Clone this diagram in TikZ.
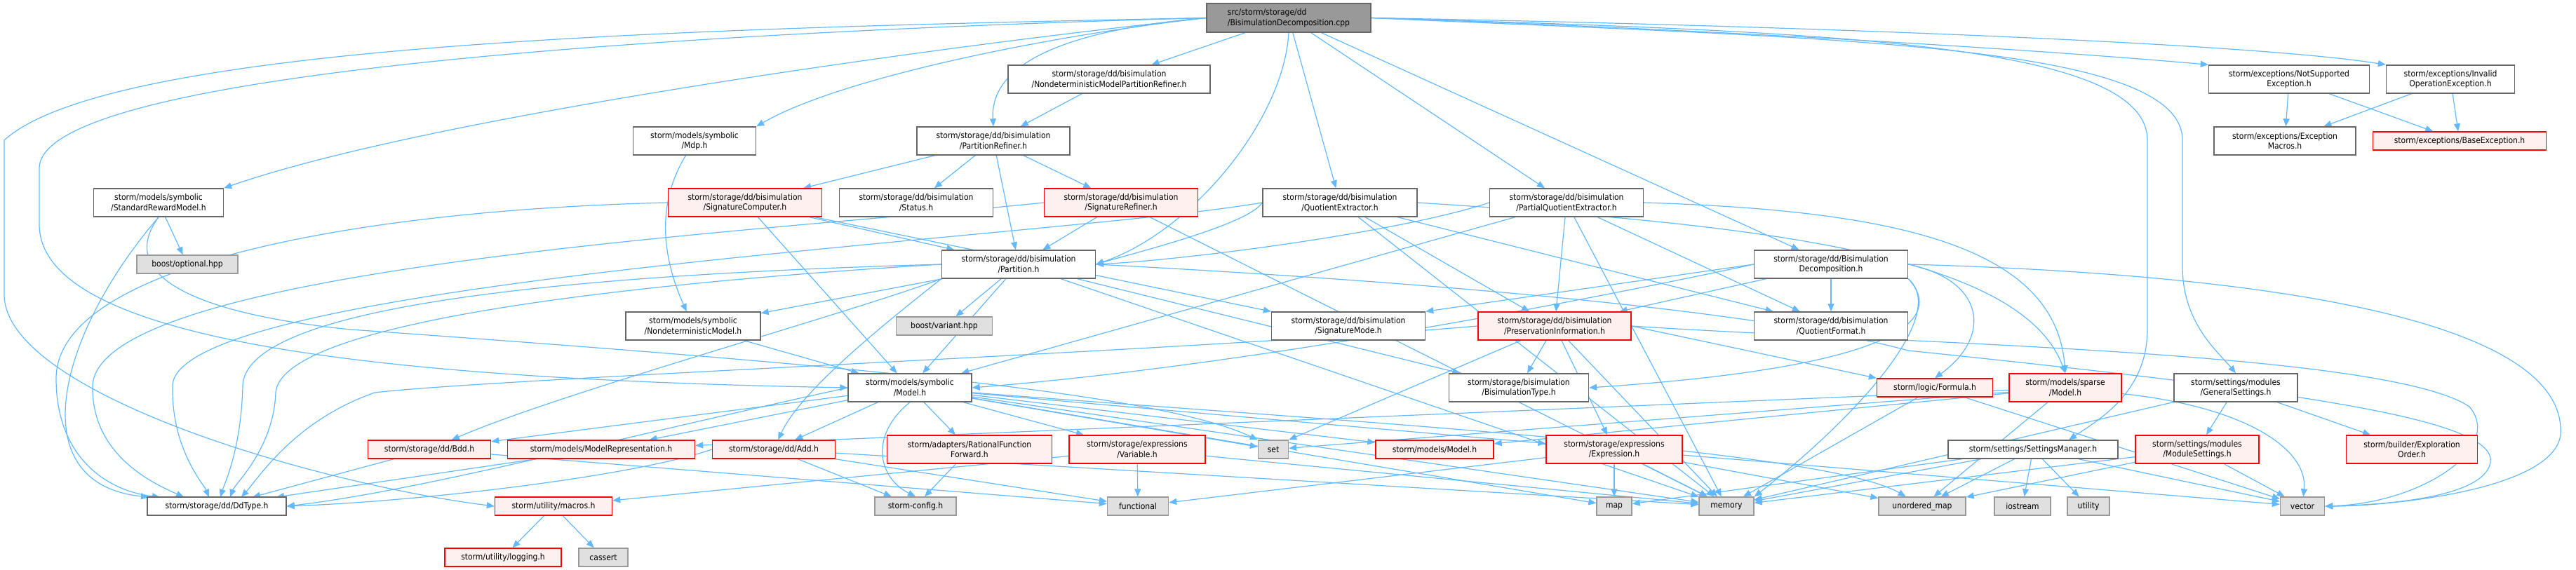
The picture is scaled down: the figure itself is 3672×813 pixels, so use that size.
\documentclass[tikz,border=0pt]{standalone}
\usepackage{fontspec}
\setmainfont{DejaVu Sans Condensed}
\usetikzlibrary{arrows.meta}
\pgfdeclarelayer{bg}
\pgfsetlayers{bg,main}
\definecolor{edgec}{HTML}{63B8FF}
\definecolor{nborder}{HTML}{666666}
\definecolor{redb}{HTML}{FF0000}
\definecolor{redf}{HTML}{FFF0F0}
\definecolor{grayf}{HTML}{E0E0E0}
\definecolor{grayb}{HTML}{999999}
\definecolor{topf}{HTML}{999999}
\tikzset{
  nbase/.style={line width=1.4pt, align=center, inner sep=0pt, font=\fontsize{12}{14.5}\selectfont},
  wbox/.style={nbase, draw=nborder, fill=white},
  rbox/.style={nbase, draw=redb, fill=redf},
  gbox/.style={nbase, draw=grayb, fill=grayf},
  tbox/.style={nbase, draw=nborder, fill=topf, align=left},
  dep/.style={draw=edgec, line width=1.2pt, -{Triangle[length=11pt,width=9pt]}},
}
\newcommand\nd[7]{\node[#6,minimum width=#4pt,minimum height=#5pt] (#1) at (#2,-#3) {#7};}
\begin{document}
\begin{tikzpicture}[x=1pt,y=1pt]
\useasboundingbox (0,0) rectangle (3672,-813);
% row 0
\nd{top}{1837}{25.5}{234}{41}{tbox}{src/storm/storage/dd\\/BisimulationDecomposition.cpp}
% row 1
\nd{nmpr}{1581}{113}{288}{40}{wbox}{storm/storage/dd/bisimulation\\/NondeterministicModelPartitionRefiner.h}
\nd{nse}{3263}{113}{229}{40}{wbox}{storm/exceptions/NotSupported\\Exception.h}
\nd{ioe}{3493}{113}{183}{40}{wbox}{storm/exceptions/Invalid\\OperationException.h}
% row 2
\nd{mdp}{990}{201}{175}{40}{wbox}{storm/models/symbolic\\/Mdp.h}
\nd{pref}{1416}{201}{218}{40}{wbox}{storm/storage/dd/bisimulation\\/PartitionRefiner.h}
\nd{emac}{3257}{201}{202}{40}{wbox}{storm/exceptions/Exception\\Macros.h}
\nd{bexc}{3506}{201}{247}{26}{rbox}{storm/exceptions/BaseException.h}
% row 3
\nd{srm}{226}{289}{185}{40}{wbox}{storm/models/symbolic\\/StandardRewardModel.h}
\nd{scomp}{1062}{289}{219}{40}{rbox}{storm/storage/dd/bisimulation\\/SignatureComputer.h}
\nd{status}{1306}{289}{219}{40}{wbox}{storm/storage/dd/bisimulation\\/Status.h}
\nd{sref}{1598}{289}{219}{40}{rbox}{storm/storage/dd/bisimulation\\/SignatureRefiner.h}
\nd{qext}{1910}{289}{220}{40}{wbox}{storm/storage/dd/bisimulation\\/QuotientExtractor.h}
\nd{pqext}{2233}{289}{219}{40}{wbox}{storm/storage/dd/bisimulation\\/PartialQuotientExtractor.h}
% row 3.5
\nd{bopt}{267}{377}{144}{26}{gbox}{boost/optional.hpp}
\nd{part}{1452}{377}{219}{40}{wbox}{storm/storage/dd/bisimulation\\/Partition.h}
\nd{bdech}{2610}{377}{219}{40}{wbox}{storm/storage/dd/Bisimulation\\Decomposition.h}
% row 4
\nd{ndm}{988}{465}{192}{40}{wbox}{storm/models/symbolic\\/NondeterministicModel.h}
\nd{bvar}{1346}{465}{137}{26}{gbox}{boost/variant.hpp}
\nd{smode}{1922}{465}{219}{40}{wbox}{storm/storage/dd/bisimulation\\/SignatureMode.h}
\nd{pinfo}{2216}{465}{218}{40}{rbox}{storm/storage/dd/bisimulation\\/PreservationInformation.h}
\nd{qfmt}{2610}{465}{219}{40}{wbox}{storm/storage/dd/bisimulation\\/QuotientFormat.h}
% row 5
\nd{smodel}{1297}{553}{176}{40}{wbox}{storm/models/symbolic\\/Model.h}
\nd{btype}{2165}{553}{199}{40}{wbox}{storm/storage/bisimulation\\/BisimulationType.h}
\nd{formula}{2758}{553}{165}{26}{rbox}{storm/logic/Formula.h}
\nd{spmodel}{2944}{553}{160}{40}{rbox}{storm/models/sparse\\/Model.h}
\nd{gset}{3187}{553}{176}{40}{wbox}{storm/settings/modules\\/GeneralSettings.h}
% row 6
\nd{bdd}{612}{641}{175}{26}{rbox}{storm/storage/dd/Bdd.h}
\nd{mrep}{857}{641}{267}{26}{rbox}{storm/models/ModelRepresentation.h}
\nd{add}{1103}{641}{175}{26}{rbox}{storm/storage/dd/Add.h}
\nd{rff}{1382}{641}{235}{40}{rbox}{storm/adapters/RationalFunction\\Forward.h}
\nd{var}{1621}{641}{194}{40}{rbox}{storm/storage/expressions\\/Variable.h}
\nd{set}{1815}{641}{43}{26}{gbox}{set}
\nd{mmodel}{2045}{641}{168}{26}{rbox}{storm/models/Model.h}
\nd{expr}{2301}{641}{194}{40}{rbox}{storm/storage/expressions\\/Expression.h}
\nd{smgr}{2898}{641}{242}{26}{wbox}{storm/settings/SettingsManager.h}
\nd{modset}{3132}{641}{176}{40}{rbox}{storm/settings/modules\\/ModuleSettings.h}
\nd{exord}{3438}{641}{187}{40}{rbox}{storm/builder/Exploration\\Order.h}
% row 7
\nd{ddtype}{309}{722}{198}{26}{wbox}{storm/storage/dd/DdType.h}
\nd{macros}{789}{722}{167}{26}{rbox}{storm/utility/macros.h}
\nd{config}{1305}{722}{116}{26}{gbox}{storm-config.h}
\nd{func}{1622}{722}{87}{26}{gbox}{functional}
\nd{map}{2301}{722}{50}{26}{gbox}{map}
\nd{memory}{2461}{722}{78}{26}{gbox}{memory}
\nd{umap}{2740}{722}{124}{26}{gbox}{unordered\_map}
\nd{iostream}{2883}{722}{80}{26}{gbox}{iostream}
\nd{utility}{2977}{722}{60}{26}{gbox}{utility}
\nd{vector}{3282}{722}{63}{26}{gbox}{vector}
% row 8
\nd{logging}{717}{795}{166}{26}{rbox}{storm/utility/logging.h}
\nd{cassert}{860}{795}{70}{26}{gbox}{cassert}
% DdType entry points
\coordinate (dd1) at (212,-709);
\coordinate (dd2) at (228,-709);
\coordinate (dd3) at (262,-709);
\coordinate (dd4) at (298,-709);
\coordinate (dd5) at (314,-709);
\coordinate (dd6) at (328,-709);
\coordinate (dd7) at (344,-709);
\coordinate (dd8) at (360,-709);
\coordinate (dd9) at (394,-709);
\begin{pgfonlayer}{bg}
% from the top node
\draw[dep] (top.west) .. controls (1000,-40) and (160,-60) .. (6,-200) -- (6,-420) .. controls (6,-560) and (450,-690) .. (macros.west);
\draw[dep] (top.west) .. controls (1000,-45) and (56,-100) .. (56,-240) -- (56,-320) .. controls (56,-480) and (500,-540) .. (smodel.west);
\draw[dep] (top.west) .. controls (1300,-70) and (600,-170) .. (srm.north east);
\draw[dep] (top.west) .. controls (1500,-50) and (1200,-110) .. (mdp.north east);
\draw[dep] (top.west) .. controls (1550,-40) and (1410,-80) .. (pref.north);
\draw[dep] (top) -- (nmpr);
\draw[dep] (top.south) .. controls (1830,-170) and (1700,-330) .. (part.east);
\draw[dep] (top) -- (qext);
\draw[dep] (top) -- (pqext);
\draw[dep] (top) -- (bdech);
\draw[dep] (top.east) .. controls (2400,-40) and (2900,-70) .. (nse.north west);
\draw[dep] (top.east) .. controls (2500,-35) and (3200,-60) .. (ioe.north west);
\draw[dep] (top.east) .. controls (2600,-45) and (3061,-60) .. (3061,-200) -- (3061,-470) .. controls (3061,-560) and (2990,-600) .. (smgr.15);
\draw[dep] (top.east) .. controls (2600,-55) and (3111,-60) .. (3111,-200) -- (3111,-380) .. controls (3111,-460) and (3160,-500) .. (gset.north);
% first levels
\draw[dep] (nmpr) -- (pref);
\draw[dep] (nse) -- (emac);
\draw[dep] (nse) -- (bexc);
\draw[dep] (ioe) -- (emac);
\draw[dep] (ioe) -- (bexc);
\draw[dep] (mdp) .. controls (930,-300) and (950,-380) .. (ndm);
\draw[dep] (pref) -- (scomp);
\draw[dep] (pref) -- (status);
\draw[dep] (pref) -- (part);
\draw[dep] (pref) -- (sref);
% StandardRewardModel
\draw[dep] (srm) -- (bopt);
\draw[dep] (srm.south) .. controls (80,-480) and (30,-690) .. (dd1);
\draw[dep] (srm.south) .. controls (160,-400) and (300,-450) .. (500,-470) .. controls (1200,-520) and (1650,-560) .. (set.north west);
% SignatureComputer
\draw[dep] (scomp) -- (part);
\draw[dep] (scomp) -- (smodel);
\draw[dep] (scomp) -- (smode.north west);
\draw[dep] (scomp.west) .. controls (500,-300) and (80,-380) .. (80,-540) .. controls (80,-650) and (150,-700) .. (dd2);
% SignatureRefiner
\draw[dep] (sref) -- (part);
\draw[dep] (sref) -- (memory);
\draw[dep] (sref.west) .. controls (1100,-330) and (140,-380) .. (132,-550) .. controls (130,-650) and (220,-690) .. (dd3);
% QuotientExtractor
\draw[dep] (qext.west) .. controls (1780,-320) and (1620,-360) .. (part.east);
\draw[dep] (qext) -- (pinfo);
\draw[dep] (qext) -- (qfmt);
\draw[dep] (qext) -- (memory);
\draw[dep] (qext.east) .. controls (2500,-320) and (2880,-360) .. (spmodel.north);
\draw[dep] (qext.west) .. controls (1500,-340) and (250,-400) .. (246,-550) .. controls (244,-640) and (290,-690) .. (dd4);
% PartialQuotientExtractor
\draw[dep] (pqext.west) .. controls (2000,-330) and (1700,-370) .. (part.east);
\draw[dep] (pqext) -- (pinfo);
\draw[dep] (pqext) -- (qfmt);
\draw[dep] (pqext) -- (memory);
\draw[dep] (pqext) -- (smodel);
\draw[dep] (pqext.east) .. controls (2700,-300) and (2930,-350) .. (spmodel.north);
% Partition
\draw[dep] (part) -- (ndm);
\draw[dep] (part) -- (bvar);
\draw[dep] (part) -- (smodel);
\draw[dep] (part) -- (btype);
\draw[dep] (part) -- (memory);
\draw[dep] (part.south west) .. controls (1200,-450) and (800,-560) .. (bdd);
\draw[dep] (part.south west) .. controls (1250,-470) and (1140,-560) .. (add);
\draw[dep] (part.west) .. controls (700,-395) and (350,-450) .. (346,-550) .. controls (344,-640) and (320,-690) .. (dd5);
\draw[dep] (part.west) .. controls (800,-410) and (400,-470) .. (393,-560) .. controls (390,-640) and (335,-690) .. (dd6);
\draw[dep] (part.east) .. controls (2000,-400) and (2500,-440) .. (2720,-500) .. controls (3300,-560) and (3560,-600) .. (3550,-660) .. controls (3540,-710) and (3400,-720) .. (vector.east);
% BisimulationDecomposition.h
\draw[dep] (bdech.west) -- (smode.north east);
\draw[dep] (bdech) -- (pinfo);
\draw[dep] (bdech) -- (qfmt);
\draw[dep] (bdech.west) .. controls (2300,-420) and (1800,-520) .. (smodel.east);
\draw[dep] (bdech.south east) .. controls (2760,-440) and (2760,-520) .. (btype.east);
\draw[dep] (bdech.south east) .. controls (2780,-450) and (2640,-600) .. (memory.north east);
\draw[dep] (bdech.east) .. controls (2830,-400) and (2840,-480) .. (formula.north);
\draw[dep] (bdech.east) .. controls (3200,-390) and (3660,-450) .. (3650,-620) .. controls (3640,-700) and (3400,-722) .. (vector.east);
% PreservationInformation
\draw[dep] (pinfo) -- (btype);
\draw[dep] (pinfo) -- (expr);
\draw[dep] (pinfo) -- (memory);
\draw[dep] (pinfo) -- (set.north east);
\draw[dep] (pinfo.east) -- (formula.north west);
\draw[dep] (pinfo.east) .. controls (2700,-490) and (3400,-500) .. (3520,-580) .. controls (3570,-640) and (3450,-718) .. (vector.east);
\draw[dep] (pinfo.west) .. controls (1700,-500) and (700,-540) .. (534,-560) .. controls (420,-600) and (370,-680) .. (dd7);
% NondeterministicModel
\draw[dep] (ndm) -- (smodel);
% symbolic Model
\draw[dep] (smodel.west) .. controls (900,-620) and (600,-700) .. (ddtype.east);
\draw[dep] (smodel) -- (bdd);
\draw[dep] (smodel) -- (mrep);
\draw[dep] (smodel) -- (add);
\draw[dep] (smodel) -- (rff);
\draw[dep] (smodel) -- (var);
\draw[dep] (smodel.south) .. controls (1240,-620) and (1250,-680) .. (config.north);
\draw[dep] (smodel) -- (set);
\draw[dep] (smodel) -- (mmodel);
\draw[dep] (smodel) -- (expr);
\draw[dep] (smodel) -- (map);
\draw[dep] (smodel) -- (memory);
\draw[dep] (smodel) .. controls (1900,-600) and (2600,-640) .. (umap);
% lower nodes
\draw[dep] (bdd) -- (dd8);
\draw[dep] (bdd) -- (func);
\draw[dep] (mrep) -- (dd9);
\draw[dep] (add.west) .. controls (900,-680) and (600,-715) .. (ddtype.east);
\draw[dep] (add) -- (config);
\draw[dep] (add) -- (func);
\draw[dep] (add) -- (memory);
\draw[dep] (rff) -- (config);
\draw[dep] (var) -- (func);
\draw[dep] (var) -- (macros);
\draw[dep] (var) -- (memory);
\draw[dep] (expr) -- (map);
\draw[dep] (expr) -- (memory);
\draw[dep] (expr) -- (umap);
\draw[dep] (expr) -- (func);
\draw[dep] (expr) -- (vector);
\draw[dep] (formula) -- (memory);
\draw[dep] (formula) -- (vector);
\draw[dep] (spmodel) -- (mmodel);
\draw[dep] (spmodel) -- (umap);
\draw[dep] (spmodel) .. controls (3200,-580) and (3290,-640) .. (vector);
\draw[dep] (spmodel) -- (set);
\draw[dep] (spmodel) -- (mrep);
\draw[dep] (gset) -- (modset);
\draw[dep] (gset) -- (exord);
\draw[dep] (gset) -- (memory);
\draw[dep] (smgr) -- (map);
\draw[dep] (smgr) -- (memory);
\draw[dep] (smgr) -- (umap);
\draw[dep] (smgr) -- (iostream);
\draw[dep] (smgr) -- (utility);
\draw[dep] (smgr) -- (vector);
\draw[dep] (modset) -- (vector);
\draw[dep] (modset) -- (umap);
\draw[dep] (modset) -- (memory);
\draw[dep] (macros) -- (logging);
\draw[dep] (macros) -- (cassert);
\end{pgfonlayer}
\end{tikzpicture}
\end{document}
